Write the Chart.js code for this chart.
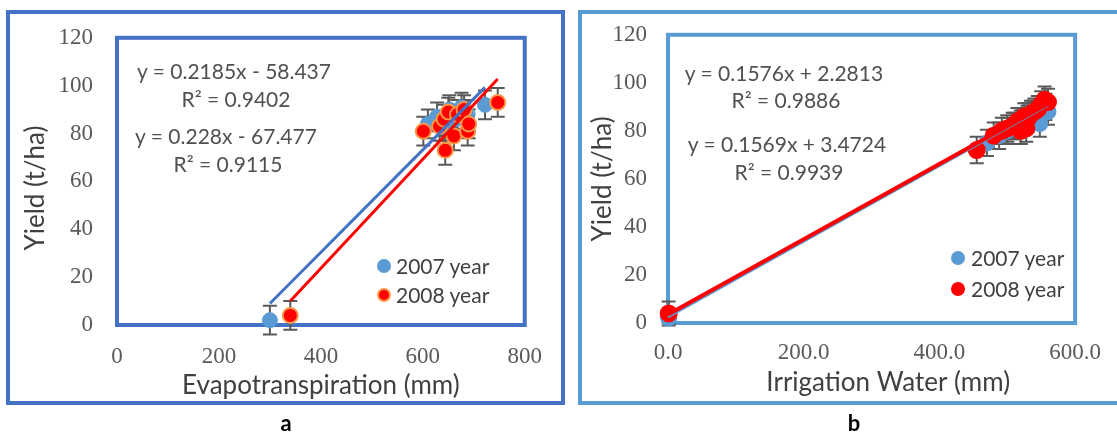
<!DOCTYPE html>
<html>
<head>
<meta charset="utf-8">
<title>Yield vs ET and irrigation</title>
<script src="https://cdn.jsdelivr.net/npm/chart.js@4.4.1/dist/chart.umd.min.js"></script>
<style>
  body { margin: 0; width: 1117px; height: 432px; overflow: hidden; background: #fff; position: relative; font-family: Lato, sans-serif; }
  .frame { position: absolute; box-sizing: border-box; }
  #frameA { left: 6px; top: 10px; width: 559px; height: 395px; border: 4px solid #4472C4; }
  #frameB { left: 578px; top: 10px; width: 560px; height: 395px; border: 4px solid #5B9BD5; }
  .box { position: absolute; top: 0; height: 432px; }
  #boxA { left: 0; width: 560px; }
  #boxB { left: 560px; width: 557px; }
  .eq { position: absolute; transform: translate(-50%, -50%); font-size: 21px; color: #505050; white-space: nowrap; }
  .dot { position: absolute; width: 14px; height: 14px; border-radius: 50%; transform: translate(-50%, -50%); box-sizing: border-box; }
  .legtxt { position: absolute; transform: translateY(-50%); font-size: 21px; color: #404040; white-space: nowrap; }
  .tag { position: absolute; transform: translate(-50%, -50%); font-weight: bold; font-size: 22px; color: #000; }
</style>
</head>
<body>
<div class="frame" id="frameA"></div>
<div class="frame" id="frameB"></div>
<div class="box" id="boxA"><canvas id="chartA"></canvas></div>
<div class="box" id="boxB"><canvas id="chartB"></canvas></div>

<div class="eq" style="left:234px;top:70px">y = 0.2185x - 58.437</div>
<div class="eq" style="left:236px;top:98px">R² = 0.9402</div>
<div class="eq" style="left:226px;top:135px">y = 0.228x - 67.477</div>
<div class="eq" style="left:228px;top:163px">R² = 0.9115</div>
<div class="dot" style="left:384px;top:266px;background:#5B9BD5"></div>
<div class="legtxt" style="left:396px;top:265px">2007 year</div>
<div class="dot" style="left:384px;top:295px;background:#FF0000;border:2px solid #F79646"></div>
<div class="legtxt" style="left:396px;top:294px">2008 year</div>
<div class="tag" style="left:286px;top:422px">a</div>

<div class="eq" style="left:784px;top:72px">y = 0.1576x + 2.2813</div>
<div class="eq" style="left:786px;top:99px">R² = 0.9886</div>
<div class="eq" style="left:787px;top:143px">y = 0.1569x + 3.4724</div>
<div class="eq" style="left:789px;top:171px">R² = 0.9939</div>
<div class="dot" style="left:958px;top:258px;background:#5B9BD5"></div>
<div class="legtxt" style="left:971px;top:257px">2007 year</div>
<div class="dot" style="left:958px;top:289px;background:#FF0000"></div>
<div class="legtxt" style="left:971px;top:288px">2008 year</div>
<div class="tag" style="left:854px;top:422px">b</div>

<script>
// panel a: evapotranspiration
const etX2007 = [300, 610, 628, 640, 652, 665, 676, 688, 722];
const etY2007 = [2, 84, 87, 83, 90, 86, 91, 88, 92];
const etErr2007 = [6, 6, 6, 6, 6, 6, 6, 6, 6];
const etX2008 = [340, 601, 633, 642, 644, 650, 661, 668, 681, 688, 690, 747];
const etY2008 = [4, 81, 83, 86, 73, 89, 79, 88, 90, 81, 84, 93];
const etErr2008 = [6, 6, 6, 6, 6, 6, 6, 6, 6, 6, 6, 6];
const etTrend2007 = [[300, 9], [722, 99.3]];
const etTrend2008 = [[340, 10], [747, 102.8]];
const etTicks = [0, 200, 400, 600, 800];

// panel b: irrigation water
const iwX2007 = [1, 470, 488, 500, 510, 520, 530, 538, 548, 556, 560];
const iwY2007 = [2, 75, 78, 80, 82, 84, 86, 87, 83, 90, 88];
const iwErr2007 = [2, 5.5, 5.5, 5.5, 5.5, 5.5, 5.5, 5.5, 5.5, 5.5, 5.5];
const iwX2008 = [1, 455, 480, 492, 500, 508, 515, 520, 525, 530, 535, 540, 545, 550, 555, 560, 520, 528];
const iwY2008 = [4, 72, 78, 80, 81, 82, 84, 80, 86, 85, 87, 88, 89, 91, 93, 92, 83, 81];
const iwErr2008 = [5, 5.5, 5.5, 5.5, 5.5, 5.5, 5.5, 5.5, 5.5, 5.5, 5.5, 5.5, 5.5, 5.5, 5.5, 5.5, 5.5, 5.5];
const iwTrend2007 = [[0, 2.3], [560, 90.5]];
const iwTrend2008 = [[0, 3.5], [560, 91.3]];
const iwTicks = [0, 200, 400, 600];

const yieldTicks = [0, 20, 40, 60, 80, 100, 120];

function toPoints(xs, ys) {
	return xs.map((x, i) => ({ x: x, y: ys[i] }));
}

// error bars + plot frame
const errorBars = {
	id: "errorBars",
	beforeDatasetsDraw(chart) {
		const ctx = chart.ctx;
		const xs = chart.scales.x, ys = chart.scales.y;
		ctx.save();
		ctx.strokeStyle = "#595959";
		ctx.lineWidth = 2;
		chart.data.datasets.forEach(ds => {
			if (!ds.errors) return;
			ds.data.forEach((p, i) => {
				const px = xs.getPixelForValue(p.x);
				const top = ys.getPixelForValue(p.y + ds.errors[i]);
				const bot = ys.getPixelForValue(p.y - ds.errors[i]);
				ctx.beginPath();
				ctx.moveTo(px, top); ctx.lineTo(px, bot);
				ctx.moveTo(px - 7, top); ctx.lineTo(px + 7, top);
				ctx.moveTo(px - 7, bot); ctx.lineTo(px + 7, bot);
				ctx.stroke();
			});
		});
		ctx.restore();
	}
};

const plotFrame = {
	id: "plotFrame",
	beforeDatasetsDraw(chart, args, opts) {
		const a = chart.chartArea;
		const ctx = chart.ctx;
		ctx.save();
		ctx.strokeStyle = opts.color;
		ctx.lineWidth = 4;
		ctx.strokeRect(a.left, a.top, a.right - a.left, a.bottom - a.top);
		ctx.restore();
	}
};

function makePanel(id, p) {
	return new Chart(document.getElementById(id), {
		type: "scatter",
		data: {
			datasets: [
				{ label: "2008 trend", data: toPoints(p.trend08.map(t => t[0]), p.trend08.map(t => t[1])), showLine: true, borderColor: "#FF0000", borderWidth: p.w08, pointRadius: 0, order: 0, clip: false },
				{ label: "2007 trend", data: toPoints(p.trend07.map(t => t[0]), p.trend07.map(t => t[1])), showLine: true, borderColor: p.line07, borderWidth: p.w07, pointRadius: 0, order: 1, clip: false },
				{ label: "2008 year", data: toPoints(p.x08, p.y08), errors: p.e08, backgroundColor: "#FF0000", borderColor: p.edge08, borderWidth: 2, pointRadius: p.r, order: 2, clip: false },
				{ label: "2007 year", data: toPoints(p.x07, p.y07), errors: p.e07, backgroundColor: "#5B9BD5", borderColor: "#5B9BD5", borderWidth: 1, pointRadius: p.r, order: 3, clip: false },
			],
		},
		options: {
			responsive: true,
			maintainAspectRatio: false,
			animation: false,
			layout: { padding: { left: p.padL, top: p.padT, right: p.padR, bottom: p.padB } },
			plugins: {
				legend: { display: false },
				tooltip: { enabled: false },
				plotFrame: { color: p.frame },
			},
			scales: {
				x: {
					type: "linear",
					min: p.xTicks[0],
					max: p.xTicks[p.xTicks.length - 1],
					grid: { display: false, drawTicks: false },
					border: { display: false },
					afterBuildTicks: s => { s.ticks = p.xTicks.map(v => ({ value: v })); },
					afterFit: s => { s.height = p.xH; },
					ticks: { padding: p.xPad, color: "#595959", maxRotation: 0, autoSkip: false, font: { family: "Liberation Serif", size: 23 }, callback: p.xFmt },
					title: { display: true, text: p.xTitle, color: "#404040", padding: 0, font: { family: "Lato", size: 26 } },
				},
				y: {
					type: "linear",
					min: 0,
					max: 120,
					grid: { display: false, drawTicks: false },
					border: { display: false },
					afterBuildTicks: s => { s.ticks = yieldTicks.map(v => ({ value: v })); },
					afterFit: s => { s.width = p.yW; },
					ticks: { padding: p.yPad, color: "#595959", font: { family: "Liberation Serif", size: 23 } },
					title: { display: true, text: p.yTitle, color: "#404040", padding: 0, font: { family: "Lato", size: 26 } },
				},
			},
		},
		plugins: [plotFrame, errorBars],
	});
}

const chartA = makePanel("chartA", {
	x07: etX2007, y07: etY2007, e07: etErr2007,
	x08: etX2008, y08: etY2008, e08: etErr2008,
	trend07: etTrend2007, trend08: etTrend2008,
	line07: "#4472C4", w07: 3, w08: 3, edge08: "#F79646", r: 7.5,
	xTicks: etTicks, xFmt: v => v,
	xTitle: "Evapotranspiration (mm)", yTitle: "Yield (t/ha)  ",
	frame: "#4472C4",
	padL: 20, padT: 35, padR: 27, padB: 31, yW: 97, xH: 76, xPad: 18, yPad: 24,
});

const chartB = makePanel("chartB", {
	x07: iwX2007, y07: iwY2007, e07: iwErr2007,
	x08: iwX2008, y08: iwY2008, e08: iwErr2008,
	trend07: iwTrend2007, trend08: iwTrend2008,
	line07: "#5B9BD5", w07: 2, w08: 4, edge08: "#FF0000", r: 8,
	xTicks: iwTicks, xFmt: v => Number(v).toFixed(1),
	xTitle: "     Irrigation Water (mm)", yTitle: "Yield (t/ha)",
	frame: "#5B9BD5",
	padL: 27, padT: 33, padR: 29, padB: 34, yW: 81, xH: 75, xPad: 16, yPad: 21,
});
</script>
</body>
</html>
